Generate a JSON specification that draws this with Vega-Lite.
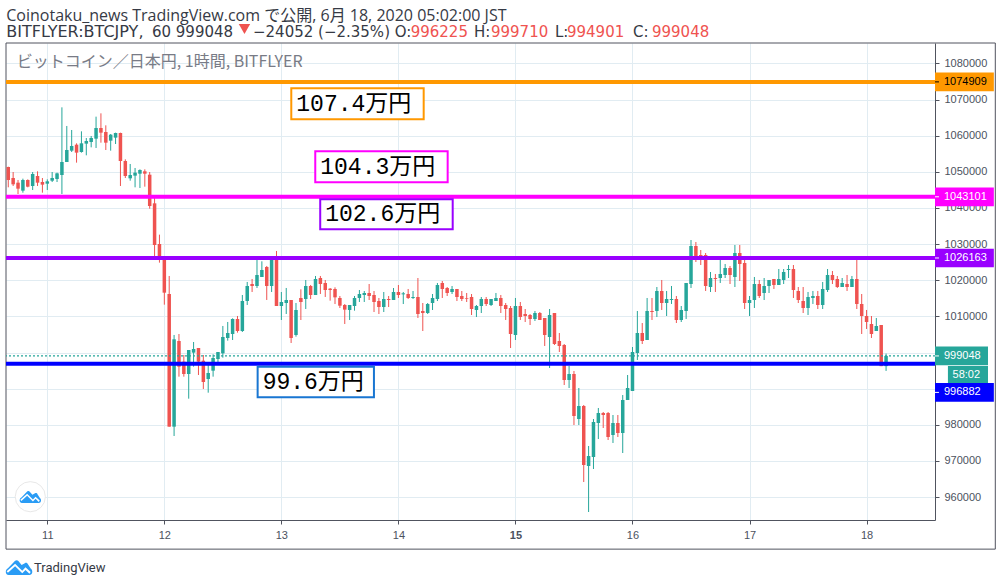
{
  "$schema": "https://vega.github.io/schema/vega-lite/v6.json",
  "description": "BTCJPY hourly candles with support and resistance levels",
  "width": 929,
  "height": 477,
  "autosize": {"type": "none"},
  "padding": {"left": 6, "top": 43, "right": 67, "bottom": 66},
  "background": "#ffffff",
  "view": {"stroke": null},
  "datasets": {
    "candles": [
      {"time":"2020-06-10T16:00Z","open":1051350,"high":1051440,"low":1045720,"close":1047750},
      {"time":"2020-06-10T17:00Z","open":1048300,"high":1049960,"low":1046090,"close":1046550},
      {"time":"2020-06-10T18:00Z","open":1047010,"high":1047750,"low":1043870,"close":1045350},
      {"time":"2020-06-10T19:00Z","open":1044800,"high":1048120,"low":1044240,"close":1047750},
      {"time":"2020-06-10T20:00Z","open":1047750,"high":1047930,"low":1045720,"close":1045900},
      {"time":"2020-06-10T21:00Z","open":1046090,"high":1049960,"low":1044980,"close":1049410},
      {"time":"2020-06-10T22:00Z","open":1048860,"high":1050150,"low":1046090,"close":1047010},
      {"time":"2020-06-10T23:00Z","open":1047190,"high":1048300,"low":1044240,"close":1046460},
      {"time":"2020-06-11T00:00Z","open":1046730,"high":1047930,"low":1044980,"close":1047380},
      {"time":"2020-06-11T01:00Z","open":1047560,"high":1049960,"low":1047190,"close":1048300},
      {"time":"2020-06-11T02:00Z","open":1048030,"high":1049780,"low":1047190,"close":1049590},
      {"time":"2020-06-11T03:00Z","open":1049130,"high":1067860,"low":1043870,"close":1052730},
      {"time":"2020-06-11T04:00Z","open":1052730,"high":1062700,"low":1052730,"close":1056050},
      {"time":"2020-06-11T05:00Z","open":1055870,"high":1061590,"low":1055500,"close":1057160},
      {"time":"2020-06-11T06:00Z","open":1057530,"high":1057900,"low":1052550,"close":1055320},
      {"time":"2020-06-11T07:00Z","open":1055500,"high":1061220,"low":1055320,"close":1057900},
      {"time":"2020-06-11T08:00Z","open":1057810,"high":1059370,"low":1054580,"close":1058550},
      {"time":"2020-06-11T09:00Z","open":1058270,"high":1059930,"low":1056790,"close":1059370},
      {"time":"2020-06-11T10:00Z","open":1059190,"high":1065280,"low":1056610,"close":1062140},
      {"time":"2020-06-11T11:00Z","open":1062140,"high":1066200,"low":1058080,"close":1060850},
      {"time":"2020-06-11T12:00Z","open":1061040,"high":1062880,"low":1056050,"close":1058080},
      {"time":"2020-06-11T13:00Z","open":1058640,"high":1060480,"low":1055870,"close":1060300},
      {"time":"2020-06-11T14:00Z","open":1059470,"high":1060850,"low":1057710,"close":1060760},
      {"time":"2020-06-11T15:00Z","open":1060760,"high":1060850,"low":1046090,"close":1053010},
      {"time":"2020-06-11T16:00Z","open":1053010,"high":1053470,"low":1048300,"close":1048860},
      {"time":"2020-06-11T17:00Z","open":1048210,"high":1052180,"low":1047560,"close":1049130},
      {"time":"2020-06-11T18:00Z","open":1048950,"high":1051070,"low":1045720,"close":1049780},
      {"time":"2020-06-11T19:00Z","open":1049500,"high":1050700,"low":1045530,"close":1050520},
      {"time":"2020-06-11T20:00Z","open":1050150,"high":1050700,"low":1045900,"close":1049500},
      {"time":"2020-06-11T21:00Z","open":1049220,"high":1049960,"low":1039810,"close":1040550},
      {"time":"2020-06-11T22:00Z","open":1041290,"high":1042770,"low":1026710,"close":1029750},
      {"time":"2020-06-11T23:00Z","open":1030040,"high":1032620,"low":1024870,"close":1026350},
      {"time":"2020-06-12T00:00Z","open":1026070,"high":1026350,"low":1013240,"close":1016560},
      {"time":"2020-06-12T01:00Z","open":1016200,"high":1021180,"low":979470,"close":979470},
      {"time":"2020-06-12T02:00Z","open":979470,"high":1004850,"low":976890,"close":1003650},
      {"time":"2020-06-12T03:00Z","open":1003190,"high":1005120,"low":993310,"close":996080},
      {"time":"2020-06-12T04:00Z","open":997460,"high":999310,"low":993310,"close":994050},
      {"time":"2020-06-12T05:00Z","open":994050,"high":1000690,"low":987220,"close":1000690},
      {"time":"2020-06-12T06:00Z","open":999960,"high":1002910,"low":996080,"close":1000970},
      {"time":"2020-06-12T07:00Z","open":1001250,"high":1001250,"low":993770,"close":997460},
      {"time":"2020-06-12T08:00Z","open":997740,"high":999310,"low":989900,"close":991840},
      {"time":"2020-06-12T09:00Z","open":992670,"high":997000,"low":988880,"close":994330},
      {"time":"2020-06-12T10:00Z","open":994970,"high":999490,"low":993310,"close":998480},
      {"time":"2020-06-12T11:00Z","open":998200,"high":1000140,"low":997000,"close":1000140},
      {"time":"2020-06-12T12:00Z","open":999770,"high":1007340,"low":998570,"close":1004290},
      {"time":"2020-06-12T13:00Z","open":1004020,"high":1008450,"low":1003280,"close":1005400},
      {"time":"2020-06-12T14:00Z","open":1005120,"high":1009460,"low":1003460,"close":1009280},
      {"time":"2020-06-12T15:00Z","open":1009280,"high":1010110,"low":1005490,"close":1005950},
      {"time":"2020-06-12T16:00Z","open":1005950,"high":1015920,"low":1005680,"close":1014260},
      {"time":"2020-06-12T17:00Z","open":1014260,"high":1019520,"low":1013150,"close":1018410},
      {"time":"2020-06-12T18:00Z","open":1018960,"high":1020350,"low":1016750,"close":1018410},
      {"time":"2020-06-12T19:00Z","open":1018410,"high":1025790,"low":1017860,"close":1021460},
      {"time":"2020-06-12T20:00Z","open":1020900,"high":1025240,"low":1020900,"close":1022840},
      {"time":"2020-06-12T21:00Z","open":1023670,"high":1023950,"low":1014540,"close":1018410},
      {"time":"2020-06-12T22:00Z","open":1018410,"high":1026710,"low":1016750,"close":1025790},
      {"time":"2020-06-12T23:00Z","open":1025800,"high":1028100,"low":1012875,"close":1012875},
      {"time":"2020-06-13T00:00Z","open":1012875,"high":1016750,"low":1008995,"close":1013980},
      {"time":"2020-06-13T01:00Z","open":1013700,"high":1017860,"low":1010660,"close":1014530},
      {"time":"2020-06-13T02:00Z","open":1014530,"high":1014530,"low":1002630,"close":1004020},
      {"time":"2020-06-13T03:00Z","open":1004850,"high":1013700,"low":1004390,"close":1011770},
      {"time":"2020-06-13T04:00Z","open":1015090,"high":1017490,"low":1008995,"close":1013980},
      {"time":"2020-06-13T05:00Z","open":1014810,"high":1020070,"low":1012040,"close":1018410},
      {"time":"2020-06-13T06:00Z","open":1018410,"high":1018690,"low":1014810,"close":1015920},
      {"time":"2020-06-13T07:00Z","open":1015920,"high":1021180,"low":1015920,"close":1020350},
      {"time":"2020-06-13T08:00Z","open":1020630,"high":1021180,"low":1016200,"close":1018960},
      {"time":"2020-06-13T09:00Z","open":1019240,"high":1020070,"low":1015370,"close":1017300},
      {"time":"2020-06-13T10:00Z","open":1017670,"high":1017850,"low":1014350,"close":1017300},
      {"time":"2020-06-13T11:00Z","open":1017580,"high":1018040,"low":1013420,"close":1015270},
      {"time":"2020-06-13T12:00Z","open":1015090,"high":1015640,"low":1012320,"close":1012960},
      {"time":"2020-06-13T13:00Z","open":1013150,"high":1013420,"low":1007890,"close":1011860},
      {"time":"2020-06-13T14:00Z","open":1011760,"high":1013150,"low":1009000,"close":1013150},
      {"time":"2020-06-13T15:00Z","open":1012870,"high":1015640,"low":1011580,"close":1015090},
      {"time":"2020-06-13T16:00Z","open":1015090,"high":1017300,"low":1013980,"close":1016190},
      {"time":"2020-06-13T17:00Z","open":1015920,"high":1017020,"low":1013980,"close":1016470},
      {"time":"2020-06-13T18:00Z","open":1016470,"high":1018960,"low":1014530,"close":1015640},
      {"time":"2020-06-13T19:00Z","open":1015920,"high":1017020,"low":1011210,"close":1013980},
      {"time":"2020-06-13T20:00Z","open":1014250,"high":1015090,"low":1010655,"close":1012590},
      {"time":"2020-06-13T21:00Z","open":1012590,"high":1016750,"low":1011210,"close":1014810},
      {"time":"2020-06-13T22:00Z","open":1014810,"high":1015640,"low":1012590,"close":1014530},
      {"time":"2020-06-13T23:00Z","open":1014530,"high":1017850,"low":1014530,"close":1016750},
      {"time":"2020-06-14T00:00Z","open":1016750,"high":1018680,"low":1015090,"close":1015920},
      {"time":"2020-06-14T01:00Z","open":1016100,"high":1016750,"low":1013420,"close":1016380},
      {"time":"2020-06-14T02:00Z","open":1016190,"high":1017580,"low":1014810,"close":1015090},
      {"time":"2020-06-14T03:00Z","open":1015090,"high":1017020,"low":1014810,"close":1015360},
      {"time":"2020-06-14T04:00Z","open":1015360,"high":1020620,"low":1009550,"close":1010660},
      {"time":"2020-06-14T05:00Z","open":1011490,"high":1013700,"low":1005950,"close":1010930},
      {"time":"2020-06-14T06:00Z","open":1010930,"high":1013700,"low":1010660,"close":1013420},
      {"time":"2020-06-14T07:00Z","open":1013700,"high":1016190,"low":1011760,"close":1015090},
      {"time":"2020-06-14T08:00Z","open":1014810,"high":1019240,"low":1014250,"close":1018680},
      {"time":"2020-06-14T09:00Z","open":1019240,"high":1019790,"low":1015090,"close":1017580},
      {"time":"2020-06-14T10:00Z","open":1017850,"high":1018130,"low":1015640,"close":1016470},
      {"time":"2020-06-14T11:00Z","open":1016750,"high":1018410,"low":1016190,"close":1017580},
      {"time":"2020-06-14T12:00Z","open":1017580,"high":1017580,"low":1014250,"close":1015360},
      {"time":"2020-06-14T13:00Z","open":1015640,"high":1017020,"low":1014250,"close":1014810},
      {"time":"2020-06-14T14:00Z","open":1015090,"high":1016470,"low":1013980,"close":1014900},
      {"time":"2020-06-14T15:00Z","open":1015360,"high":1016190,"low":1010380,"close":1012040},
      {"time":"2020-06-14T16:00Z","open":1011760,"high":1013150,"low":1009820,"close":1012870},
      {"time":"2020-06-14T17:00Z","open":1012870,"high":1015360,"low":1010930,"close":1014810},
      {"time":"2020-06-14T18:00Z","open":1014810,"high":1015360,"low":1012870,"close":1013420},
      {"time":"2020-06-14T19:00Z","open":1013150,"high":1014810,"low":1012870,"close":1014810},
      {"time":"2020-06-14T20:00Z","open":1014250,"high":1016470,"low":1014250,"close":1015090},
      {"time":"2020-06-14T21:00Z","open":1015090,"high":1015920,"low":1010930,"close":1012870},
      {"time":"2020-06-14T22:00Z","open":1013150,"high":1013700,"low":1009000,"close":1012040},
      {"time":"2020-06-14T23:00Z","open":1012320,"high":1012870,"low":1001240,"close":1005120},
      {"time":"2020-06-15T00:00Z","open":1004840,"high":1015090,"low":1003460,"close":1012870},
      {"time":"2020-06-15T01:00Z","open":1012870,"high":1013980,"low":1009000,"close":1009820},
      {"time":"2020-06-15T02:00Z","open":1010660,"high":1012040,"low":1008440,"close":1010100},
      {"time":"2020-06-15T03:00Z","open":1010380,"high":1010660,"low":1007610,"close":1009270},
      {"time":"2020-06-15T04:00Z","open":1009270,"high":1011490,"low":1008720,"close":1010930},
      {"time":"2020-06-15T05:00Z","open":1010930,"high":1011210,"low":1008995,"close":1008995},
      {"time":"2020-06-15T06:00Z","open":1009550,"high":1009550,"low":1001800,"close":1004840},
      {"time":"2020-06-15T07:00Z","open":1004290,"high":1012040,"low":995710,"close":1010380},
      {"time":"2020-06-15T08:00Z","open":1010930,"high":1010930,"low":1002080,"close":1002350},
      {"time":"2020-06-15T09:00Z","open":1003180,"high":1005400,"low":1000140,"close":1001800},
      {"time":"2020-06-15T10:00Z","open":1002080,"high":1002350,"low":991000,"close":992390},
      {"time":"2020-06-15T11:00Z","open":992390,"high":996260,"low":990170,"close":994050},
      {"time":"2020-06-15T12:00Z","open":994050,"high":994880,"low":979930,"close":982420},
      {"time":"2020-06-15T13:00Z","open":981590,"high":990170,"low":979930,"close":985190},
      {"time":"2020-06-15T14:00Z","open":985190,"high":985470,"low":964150,"close":968860},
      {"time":"2020-06-15T15:00Z","open":968580,"high":974120,"low":955850,"close":971350},
      {"time":"2020-06-15T16:00Z","open":971070,"high":981590,"low":967750,"close":980760},
      {"time":"2020-06-15T17:00Z","open":980480,"high":984640,"low":976050,"close":983250},
      {"time":"2020-06-15T18:00Z","open":983250,"high":983530,"low":979100,"close":982700},
      {"time":"2020-06-15T19:00Z","open":983250,"high":983530,"low":975780,"close":976610},
      {"time":"2020-06-15T20:00Z","open":977160,"high":982700,"low":974950,"close":980480},
      {"time":"2020-06-15T21:00Z","open":980480,"high":982700,"low":976610,"close":977710},
      {"time":"2020-06-15T22:00Z","open":977710,"high":988230,"low":972180,"close":986850},
      {"time":"2020-06-15T23:00Z","open":986850,"high":993770,"low":986850,"close":990170},
      {"time":"2020-06-16T00:00Z","open":989340,"high":1001520,"low":989340,"close":1000140},
      {"time":"2020-06-16T01:00Z","open":999860,"high":1011490,"low":997920,"close":1005400},
      {"time":"2020-06-16T02:00Z","open":1005400,"high":1008160,"low":1002350,"close":1003180},
      {"time":"2020-06-16T03:00Z","open":1003460,"high":1015090,"low":1003460,"close":1011490},
      {"time":"2020-06-16T04:00Z","open":1011490,"high":1015090,"low":1009000,"close":1011210},
      {"time":"2020-06-16T05:00Z","open":1011490,"high":1018130,"low":1009830,"close":1017030},
      {"time":"2020-06-16T06:00Z","open":1017030,"high":1020070,"low":1011770,"close":1013700},
      {"time":"2020-06-16T07:00Z","open":1013700,"high":1017030,"low":1010100,"close":1014810},
      {"time":"2020-06-16T08:00Z","open":1014530,"high":1018410,"low":1013430,"close":1014810},
      {"time":"2020-06-16T09:00Z","open":1014810,"high":1015640,"low":1008170,"close":1009000},
      {"time":"2020-06-16T10:00Z","open":1009000,"high":1012870,"low":1008440,"close":1011770},
      {"time":"2020-06-16T11:00Z","open":1011490,"high":1019240,"low":1009280,"close":1019240},
      {"time":"2020-06-16T12:00Z","open":1018960,"high":1031140,"low":1017860,"close":1029480},
      {"time":"2020-06-16T13:00Z","open":1029480,"high":1030590,"low":1025050,"close":1026710},
      {"time":"2020-06-16T14:00Z","open":1026990,"high":1028370,"low":1024220,"close":1026160},
      {"time":"2020-06-16T15:00Z","open":1026990,"high":1027540,"low":1017030,"close":1018410},
      {"time":"2020-06-16T16:00Z","open":1018130,"high":1022280,"low":1016750,"close":1020620},
      {"time":"2020-06-16T17:00Z","open":1020620,"high":1021730,"low":1016750,"close":1020350},
      {"time":"2020-06-16T18:00Z","open":1020620,"high":1025610,"low":1019240,"close":1021730},
      {"time":"2020-06-16T19:00Z","open":1021450,"high":1024500,"low":1020620,"close":1023390},
      {"time":"2020-06-16T20:00Z","open":1023390,"high":1023945,"low":1018960,"close":1021450},
      {"time":"2020-06-16T21:00Z","open":1020900,"high":1029760,"low":1018130,"close":1027540},
      {"time":"2020-06-16T22:00Z","open":1027540,"high":1029760,"low":1019790,"close":1024500},
      {"time":"2020-06-16T23:00Z","open":1024780,"high":1025610,"low":1012040,"close":1013700},
      {"time":"2020-06-17T00:00Z","open":1013700,"high":1015640,"low":1010100,"close":1014530},
      {"time":"2020-06-17T01:00Z","open":1014530,"high":1020900,"low":1012320,"close":1018960},
      {"time":"2020-06-17T02:00Z","open":1018960,"high":1020070,"low":1015090,"close":1015640},
      {"time":"2020-06-17T03:00Z","open":1016470,"high":1020620,"low":1014530,"close":1018410},
      {"time":"2020-06-17T04:00Z","open":1018410,"high":1020070,"low":1016470,"close":1020070},
      {"time":"2020-06-17T05:00Z","open":1020350,"high":1020350,"low":1017580,"close":1018690},
      {"time":"2020-06-17T06:00Z","open":1018690,"high":1023110,"low":1018690,"close":1020350},
      {"time":"2020-06-17T07:00Z","open":1020070,"high":1023110,"low":1018960,"close":1022280},
      {"time":"2020-06-17T08:00Z","open":1022840,"high":1024220,"low":1020620,"close":1023110},
      {"time":"2020-06-17T09:00Z","open":1023110,"high":1024220,"low":1015090,"close":1017300},
      {"time":"2020-06-17T10:00Z","open":1017030,"high":1018130,"low":1013700,"close":1014530},
      {"time":"2020-06-17T11:00Z","open":1014260,"high":1018130,"low":1010930,"close":1012320},
      {"time":"2020-06-17T12:00Z","open":1012320,"high":1016750,"low":1010380,"close":1015360},
      {"time":"2020-06-17T13:00Z","open":1015090,"high":1017030,"low":1013430,"close":1015640},
      {"time":"2020-06-17T14:00Z","open":1015640,"high":1017030,"low":1012040,"close":1013150},
      {"time":"2020-06-17T15:00Z","open":1013150,"high":1019520,"low":1012040,"close":1017580},
      {"time":"2020-06-17T16:00Z","open":1017300,"high":1023110,"low":1016750,"close":1021450},
      {"time":"2020-06-17T17:00Z","open":1021450,"high":1022560,"low":1018960,"close":1020070},
      {"time":"2020-06-17T18:00Z","open":1020350,"high":1021180,"low":1017860,"close":1018130},
      {"time":"2020-06-17T19:00Z","open":1018130,"high":1020620,"low":1018130,"close":1019240},
      {"time":"2020-06-17T20:00Z","open":1018960,"high":1021450,"low":1017030,"close":1018130},
      {"time":"2020-06-17T21:00Z","open":1018130,"high":1021180,"low":1018130,"close":1020350},
      {"time":"2020-06-17T22:00Z","open":1020350,"high":1025790,"low":1012040,"close":1013430},
      {"time":"2020-06-17T23:00Z","open":1013430,"high":1016190,"low":1005120,"close":1010100},
      {"time":"2020-06-18T00:00Z","open":1010100,"high":1011770,"low":1006510,"close":1008440},
      {"time":"2020-06-18T01:00Z","open":1007890,"high":1010100,"low":1004020,"close":1005120},
      {"time":"2020-06-18T02:00Z","open":1005950,"high":1009550,"low":1005950,"close":1007340},
      {"time":"2020-06-18T03:00Z","open":1007610,"high":1007610,"low":996225,"close":996225},
      {"time":"2020-06-18T04:00Z","open":996225,"high":999710,"low":994901,"close":999048}
    ],
    "levels": [
      {"level":"1074909","price":1074909,"tag":1074909},
      {"level":"1043101","price":1043101,"tag":1043101},
      {"level":"1026163","price":1026163,"tag":1026163},
      {"level":"996882","price":996882,"tag":988955}
    ],
    "boxes": [
      {"label":"107.4万円","start":"2020-06-13T02:02Z","end":"2020-06-14T05:11Z","top":1073130,"bottom":1064550,"mid":1068840},
      {"label":"104.3万円","start":"2020-06-13T06:57Z","end":"2020-06-14T10:06Z","top":1055690,"bottom":1047110,"mid":1051400},
      {"label":"102.6万円","start":"2020-06-13T07:58Z","end":"2020-06-14T11:08Z","top":1042400,"bottom":1034100,"mid":1038250},
      {"label":"99.6万円","start":"2020-06-12T19:08Z","end":"2020-06-13T18:59Z","top":996070,"bottom":987600,"mid":991840}
    ],
    "header": [
      {"text":"60 999048","time":"2020-06-11T21:28Z","price":1088720},
      {"text":"−24052 (−2.35%) O:","time":"2020-06-12T18:11Z","price":1088720},
      {"text":"H:","time":"2020-06-14T15:30Z","price":1088720},
      {"text":"L:","time":"2020-06-15T08:06Z","price":1088720},
      {"text":"C:","time":"2020-06-16T00:06Z","price":1088720}
    ],
    "ohlc": [
      {"text":"996225","time":"2020-06-14T02:31Z","price":1088720},
      {"text":"999710","time":"2020-06-14T18:59Z","price":1088720},
      {"text":"994901","time":"2020-06-15T10:34Z","price":1088720},
      {"text":"999048","time":"2020-06-16T04:00Z","price":1088720}
    ]
  },
  "resolve": {"axis": {"x": "independent", "y": "independent"}},
  "layer": [
    {
      "data": {"values": [{}]},
      "mark": {"type": "rect", "fill": null, "stroke": "#50535e", "strokeWidth": 1},
      "encoding": {
        "x": {
          "datum": {"year": 2020, "month": 6, "date": 10, "hours": 15, "minutes": 32, "utc": true},
          "type": "temporal",
          "scale": {"type": "utc", "domain": [1591803120000, 1592488920000], "padding": 0},
          "axis": {
            "title": null,
            "values": [1591833600000, 1591920000000, 1592006400000, 1592092800000, 1592179200000, 1592265600000, 1592352000000, 1592438400000],
            "format": "%-d",
            "grid": true,
            "gridColor": "#e1ecf2",
            "domainColor": "#50535e",
            "tickColor": "#50535e",
            "tickSize": 4,
            "labelFont": "Liberation Sans",
            "labelFontSize": 11,
            "labelColor": "#4c525e",
            "labelPadding": 5,
            "labelFontWeight": {"condition": {"test": "utcdate(datum.value) == 15", "value": "bold"}, "value": "normal"}
          }
        },
        "x2": {"datum": {"year": 2020, "month": 6, "date": 19, "hours": 2, "minutes": 24, "utc": true}},
        "y": {
          "datum": 1085670,
          "type": "quantitative",
          "scale": {"domain": [953636, 1085670], "nice": false, "zero": false},
          "axis": {
            "title": null,
            "orient": "right",
            "values": [960000,970000,980000,990000,1000000,1010000,1020000,1030000,1040000,1050000,1060000,1070000,1080000],
            "format": "d",
            "labelExpr": "datum.value == 990000 || datum.value == 1000000 ? '' : datum.label",
            "grid": true,
            "gridColor": "#e1ecf2",
            "domainColor": "#50535e",
            "tickColor": "#50535e",
            "tickSize": 4,
            "labelFont": "Liberation Sans",
            "labelFontSize": 11,
            "labelColor": "#4c525e",
            "labelPadding": 5
          }
        },
        "y2": {"datum": 945570}
      }
    },
    {
      "data": {"values": [{"text": "ビットコイン／日本円, 1時間, BITFLYER", "time": "2020-06-10T17:44Z", "price": 1080410}]},
      "mark": {"type": "text", "align": "left", "baseline": "middle", "font": "Noto Sans CJK JP", "fontSize": 16, "color": "#787b86"},
      "encoding": {
        "x": {"field": "time", "type": "temporal", "axis": null},
        "y": {"field": "price", "type": "quantitative", "axis": null},
        "text": {"field": "text"}
      }
    },
    {
      "data": {"name": "candles"},
      "mark": {"type": "rule", "strokeWidth": 1},
      "encoding": {
        "x": {"field": "time", "type": "temporal", "axis": null},
        "y": {"field": "low", "type": "quantitative", "axis": null},
        "y2": {"field": "high"},
        "color": {"condition": {"test": "datum.open <= datum.close", "value": "#26a69a"}, "value": "#ef5350"}
      }
    },
    {
      "data": {"name": "candles"},
      "mark": {"type": "bar", "size": 3.5},
      "encoding": {
        "x": {"field": "time", "type": "temporal", "axis": null},
        "y": {"field": "open", "type": "quantitative", "axis": null},
        "y2": {"field": "close"},
        "color": {"condition": {"test": "datum.open <= datum.close", "value": "#26a69a"}, "value": "#ef5350"}
      }
    },
    {
      "data": {"values": [{"price": 999048}]},
      "mark": {"type": "rule", "strokeWidth": 1.3, "strokeDash": [2, 2], "color": "#26a69a"},
      "encoding": {
        "y": {"field": "price", "type": "quantitative", "axis": null}
      }
    },
    {
      "data": {"name": "levels"},
      "mark": {"type": "rule", "strokeWidth": 4},
      "encoding": {
        "y": {"field": "price", "type": "quantitative", "axis": null},
        "color": {
          "field": "level",
          "type": "nominal",
          "legend": null,
          "scale": {"domain": ["1074909","1043101","1026163","996882"], "range": ["#ff9800","#ff00ff","#9900ff","#0000ff"]}
        }
      }
    },
    {
      "data": {"name": "boxes"},
      "mark": {"type": "rect", "fill": "#ffffff", "strokeWidth": 2},
      "encoding": {
        "x": {"field": "start", "type": "temporal", "axis": null},
        "x2": {"field": "end"},
        "y": {"field": "top", "type": "quantitative", "axis": null},
        "y2": {"field": "bottom"},
        "stroke": {
          "field": "label",
          "type": "nominal",
          "legend": null,
          "scale": {"domain": ["107.4万円","104.3万円","102.6万円","99.6万円"], "range": ["#ff9800","#ff00ff","#9900ff","#1976d2"]}
        }
      }
    },
    {
      "data": {"name": "boxes"},
      "mark": {"type": "text", "align": "left", "baseline": "middle", "dx": 5, "font": "Liberation Mono, Noto Sans CJK JP", "fontSize": 23, "color": "#000000"},
      "encoding": {
        "x": {"field": "start", "type": "temporal", "axis": null},
        "y": {"field": "mid", "type": "quantitative", "axis": null},
        "text": {"field": "label"}
      }
    },
    {
      "data": {"values": [{"price": 999048}]},
      "mark": {"type": "rule", "strokeWidth": 18.7, "color": "#26a69a"},
      "encoding": {
        "x": {"datum": {"year": 2020, "month": 6, "date": 18, "hours": 14, "minutes": 2, "utc": true}, "type": "temporal", "axis": null},
        "x2": {"datum": {"year": 2020, "month": 6, "date": 19, "hours": 0, "minutes": 54, "utc": true}},
        "y": {"field": "price", "type": "quantitative", "axis": null}
      }
    },
    {
      "data": {"values": [{"price": 993855}]},
      "mark": {"type": "rule", "strokeWidth": 17.3, "color": "#26a69a"},
      "encoding": {
        "x": {"datum": {"year": 2020, "month": 6, "date": 18, "hours": 16, "minutes": 41, "utc": true}, "type": "temporal", "axis": null},
        "x2": {"datum": {"year": 2020, "month": 6, "date": 19, "hours": 0, "minutes": 54, "utc": true}},
        "y": {"field": "price", "type": "quantitative", "axis": null}
      }
    },
    {
      "data": {"values": [{"price": 999048}]},
      "mark": {"type": "rule", "strokeWidth": 1, "color": "#ffffff"},
      "encoding": {
        "x": {"datum": {"year": 2020, "month": 6, "date": 18, "hours": 14, "minutes": 2, "utc": true}, "type": "temporal", "axis": null},
        "x2": {"datum": {"year": 2020, "month": 6, "date": 18, "hours": 14, "minutes": 51, "utc": true}},
        "y": {"field": "price", "type": "quantitative", "axis": null}
      }
    },
    {
      "data": {"values": [{"text": "999048", "time": "2020-06-18T15:52Z", "price": 999048}, {"text": "58:02", "time": "2020-06-18T17:38Z", "price": 993855}]},
      "mark": {"type": "text", "align": "left", "baseline": "middle", "font": "Liberation Sans", "fontSize": 11, "color": "#ffffff"},
      "encoding": {
        "x": {"field": "time", "type": "temporal", "axis": null},
        "y": {"field": "price", "type": "quantitative", "axis": null},
        "text": {"field": "text"}
      }
    },
    {
      "data": {"name": "levels"},
      "mark": {"type": "rule", "strokeWidth": 18.7},
      "encoding": {
        "x": {"datum": {"year": 2020, "month": 6, "date": 18, "hours": 14, "minutes": 2, "utc": true}, "type": "temporal", "axis": null},
        "x2": {"datum": {"year": 2020, "month": 6, "date": 19, "hours": 2, "minutes": 6, "utc": true}},
        "y": {"field": "tag", "type": "quantitative", "axis": null},
        "color": {"field": "level", "type": "nominal", "legend": null}
      }
    },
    {
      "data": {"name": "levels"},
      "mark": {"type": "rule", "strokeWidth": 1},
      "encoding": {
        "x": {"datum": {"year": 2020, "month": 6, "date": 18, "hours": 14, "minutes": 2, "utc": true}, "type": "temporal", "axis": null},
        "x2": {"datum": {"year": 2020, "month": 6, "date": 18, "hours": 14, "minutes": 51, "utc": true}},
        "y": {"field": "tag", "type": "quantitative", "axis": null},
        "color": {"condition": {"test": "datum.level == '1074909'", "value": "#000000"}, "value": "#ffffff"}
      }
    },
    {
      "data": {"name": "levels"},
      "mark": {"type": "text", "align": "left", "baseline": "middle", "font": "Liberation Sans", "fontSize": 11},
      "encoding": {
        "x": {"datum": {"year": 2020, "month": 6, "date": 18, "hours": 15, "minutes": 52, "utc": true}, "type": "temporal", "axis": null},
        "y": {"field": "tag", "type": "quantitative", "axis": null},
        "text": {"field": "level"},
        "color": {"condition": {"test": "datum.level == '1074909'", "value": "#000000"}, "value": "#ffffff"}
      }
    },
    {
      "data": {"values": [{"text": "Coinotaku_news TradingView.com で公開, 6月 18, 2020 05:02:00 JST", "time": "2020-06-10T15:35Z", "price": 1093250}]},
      "mark": {"type": "text", "align": "left", "baseline": "middle", "font": "Open Sans, Noto Sans CJK JP", "fontSize": 16, "color": "#363a45"},
      "encoding": {
        "x": {"field": "time", "type": "temporal", "axis": null},
        "y": {"field": "price", "type": "quantitative", "axis": null},
        "text": {"field": "text"}
      }
    },
    {
      "data": {"values": [{"text": "BITFLYER:BTCJPY,", "time": "2020-06-10T15:35Z", "price": 1088720}]},
      "mark": {"type": "text", "align": "left", "baseline": "middle", "font": "DejaVu Sans", "fontSize": 16, "color": "#363a45"},
      "encoding": {
        "x": {"field": "time", "type": "temporal", "axis": null},
        "y": {"field": "price", "type": "quantitative", "axis": null},
        "text": {"field": "text"}
      }
    },
    {
      "data": {"name": "header"},
      "mark": {"type": "text", "align": "left", "baseline": "middle", "font": "DejaVu Sans", "fontSize": 15, "color": "#363a45"},
      "encoding": {
        "x": {"field": "time", "type": "temporal", "axis": null},
        "y": {"field": "price", "type": "quantitative", "axis": null},
        "text": {"field": "text"}
      }
    },
    {
      "data": {"name": "ohlc"},
      "mark": {"type": "text", "align": "left", "baseline": "middle", "font": "DejaVu Sans", "fontSize": 15, "color": "#ef5350"},
      "encoding": {
        "x": {"field": "time", "type": "temporal", "axis": null},
        "y": {"field": "price", "type": "quantitative", "axis": null},
        "text": {"field": "text"}
      }
    },
    {
      "data": {"values": [{"time": "2020-06-12T16:26Z", "price": 1089545}]},
      "mark": {"type": "point", "shape": "triangle-down", "filled": true, "size": 130, "color": "#ef5350", "opacity": 1},
      "encoding": {
        "x": {"field": "time", "type": "temporal", "axis": null},
        "y": {"field": "price", "type": "quantitative", "axis": null}
      }
    },
    {
      "data": {"values": [{"time": "2020-06-10T20:31Z", "price": 960085}]},
      "mark": {"type": "point", "shape": "circle", "filled": true, "size": 908, "fill": "#ffffff", "stroke": "#e8e8e8", "strokeWidth": 1, "opacity": 1},
      "encoding": {
        "x": {"field": "time", "type": "temporal", "axis": null},
        "y": {"field": "price", "type": "quantitative", "axis": null}
      }
    },
    {
      "data": {"values": [{"time": "2020-06-10T20:31Z", "price": 960085}]},
      "mark": {"type": "point", "filled": true, "size": 441, "color": "#2a9cf5", "opacity": 1, "shape": "M-0.8 0.6C-1.05 0.6 -1.1 0.2 -0.85 0.08L-0.3 -0.5C-0.2 -0.58 -0.1 -0.55 -0.05 -0.48L0.2 -0.18L0.45 -0.32C0.55 -0.38 0.65 -0.32 0.7 -0.22L0.9 0.1C1.1 0.25 1.05 0.6 0.8 0.6ZM-0.85 0.42L-0.3 -0.08L0.25 0.46L0.5 0.2L0.8 0.5L0.9 0.36L0.5 0L0.25 0.26L-0.3 -0.28L-0.95 0.3Z"},
      "encoding": {
        "x": {"field": "time", "type": "temporal", "axis": null},
        "y": {"field": "price", "type": "quantitative", "axis": null}
      }
    },
    {
      "data": {"values": [{"time": "2020-06-10T18:12Z", "price": 940540}]},
      "mark": {"type": "point", "filled": true, "size": 676, "color": "#2a9cf5", "opacity": 1, "shape": "M-0.8 0.6C-1.05 0.6 -1.1 0.2 -0.85 0.08L-0.3 -0.5C-0.2 -0.58 -0.1 -0.55 -0.05 -0.48L0.2 -0.18L0.45 -0.32C0.55 -0.38 0.65 -0.32 0.7 -0.22L0.9 0.1C1.1 0.25 1.05 0.6 0.8 0.6ZM-0.85 0.42L-0.3 -0.08L0.25 0.46L0.5 0.2L0.8 0.5L0.9 0.36L0.5 0L0.25 0.26L-0.3 -0.28L-0.95 0.3Z"},
      "encoding": {
        "x": {"field": "time", "type": "temporal", "axis": null},
        "y": {"field": "price", "type": "quantitative", "axis": null}
      }
    },
    {
      "data": {"values": [{"text": "TradingView", "time": "2020-06-10T21:16Z", "price": 940430}]},
      "mark": {"type": "text", "align": "left", "baseline": "middle", "font": "Roboto", "fontSize": 13, "color": "#363a45"},
      "encoding": {
        "x": {"field": "time", "type": "temporal", "axis": null},
        "y": {"field": "price", "type": "quantitative", "axis": null},
        "text": {"field": "text"}
      }
    }
  ]
}
